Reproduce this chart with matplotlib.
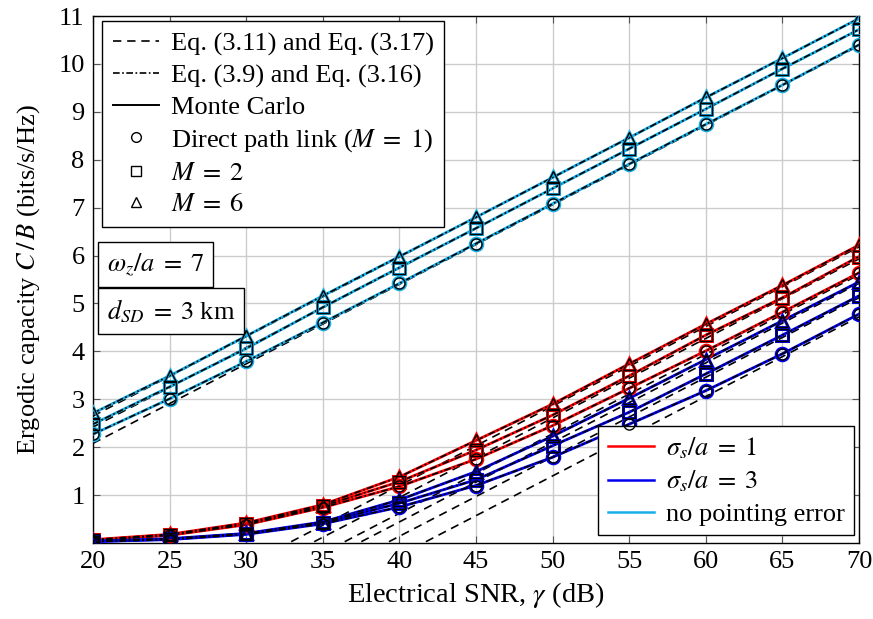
import matplotlib
matplotlib.use("Agg")
import matplotlib.pyplot as plt
from matplotlib.lines import Line2D

plt.rcParams['font.family'] = ['Liberation Serif', 'DejaVu Serif']
plt.rcParams['mathtext.fontset'] = 'stix'

snr = [20, 25, 30, 35, 40, 45, 50, 55, 60, 65, 70]

# no pointing error (cyan)
cyan_M1 = [2.27, 3.01, 3.79, 4.60, 5.42, 6.25, 7.08, 7.91, 8.74, 9.56, 10.40]
cyan_M2 = [2.48, 3.26, 4.06, 4.92, 5.75, 6.57, 7.40, 8.23, 9.06, 9.90, 10.72]
cyan_M6 = [2.71, 3.49, 4.32, 5.16, 5.98, 6.80, 7.63, 8.46, 9.30, 10.12, 10.95]
# sigma_s/a = 1 (red)
red_M1 = [0.05, 0.16, 0.38, 0.74, 1.18, 1.75, 2.45, 3.23, 4.01, 4.82, 5.64]
red_M2 = [0.06, 0.17, 0.40, 0.77, 1.28, 1.94, 2.67, 3.49, 4.34, 5.12, 5.98]
red_M6 = [0.07, 0.18, 0.42, 0.80, 1.38, 2.14, 2.90, 3.74, 4.57, 5.38, 6.22]
# sigma_s/a = 3 (blue)
blue_M1 = [0.03, 0.07, 0.18, 0.40, 0.75, 1.20, 1.79, 2.48, 3.18, 3.95, 4.78]
blue_M2 = [0.03, 0.08, 0.19, 0.42, 0.83, 1.32, 2.03, 2.73, 3.53, 4.34, 5.16]
blue_M6 = [0.04, 0.09, 0.20, 0.44, 0.90, 1.49, 2.23, 3.02, 3.83, 4.64, 5.45]

# high-SNR asymptotes (values at 20 dB and 70 dB)
asym_snr = [20, 70]
asym_cyan = [[2.08, 10.38], [2.42, 10.72], [2.65, 10.95]]
asym_red = [[-2.70, 5.60], [-2.37, 5.93], [-2.12, 6.18]]
asym_blue = [[-3.58, 4.72], [-3.18, 5.12], [-2.88, 5.42]]

yticks = [1, 2, 3, 4, 5, 6, 7, 8, 9, 10, 11]
xticks = [20, 25, 30, 35, 40, 45, 50, 55, 60, 65, 70]

C_RED = '#ff0000'
C_BLUE = '#0000ee'
C_CYAN = '#19aee6'
markers = ['o', 's', '^']
DASHDOT = (0, (4, 1.5, 1, 1.5))
DASHED = (0, (5, 3.5))
FS = 19

fig = plt.figure(figsize=(8.73, 6.19), dpi=100)
ax = fig.add_axes([0.1065, 0.1228, 0.8775, 0.8513])

groups = [
    (C_CYAN, [cyan_M1, cyan_M2, cyan_M6], asym_cyan),
    (C_RED, [red_M1, red_M2, red_M6], asym_red),
    (C_BLUE, [blue_M1, blue_M2, blue_M6], asym_blue),
]

for color, series, asyms in groups:
    for a in asyms:
        ax.plot(asym_snr, a, color='black', lw=1.2, ls=DASHED, zorder=2)
    for vals, m in zip(series, markers):
        ax.plot(snr, vals, color=color, lw=2.0, zorder=3)
        ax.plot(snr, vals, color='black', lw=1.2, ls=DASHDOT, zorder=4)
        ax.plot(snr, vals, ls='none', marker=m, ms=9, mfc='none',
                mec=color, mew=2.2, zorder=5)
        ax.plot(snr, vals, ls='none', marker=m, ms=8, mfc='none',
                mec='black', mew=1.0, zorder=6)

ax.set_xlim(20, 70)
ax.set_ylim(0, 11)
ax.set_xticks(xticks)
ax.set_yticks(yticks)
ax.tick_params(axis='both', which='both', direction='in', top=True, right=True,
               length=5, width=0.8, color='#555555', labelsize=FS, pad=6)
ax.grid(True, color='#cccccc', lw=1.0)
ax.set_axisbelow(True)
for s in ax.spines.values():
    s.set_linewidth(1.0)

ax.set_xlabel(r'Electrical SNR, $\gamma$ (dB)', fontsize=20.5, labelpad=5)
ax.set_ylabel(r'Ergodic capacity $C\,/\,B$ (bits/s/Hz)', fontsize=FS, labelpad=12)

h1 = [
    Line2D([], [], color='black', lw=1.2, ls=DASHED),
    Line2D([], [], color='black', lw=1.2, ls=DASHDOT),
    Line2D([], [], color='black', lw=1.4),
    Line2D([], [], color='black', ls='none', marker='o', ms=7, mfc='none', mew=1.0),
    Line2D([], [], color='black', ls='none', marker='s', ms=7, mfc='none', mew=1.0),
    Line2D([], [], color='black', ls='none', marker='^', ms=7, mfc='none', mew=1.0),
]
l1 = [r'Eq. (3.11) and Eq. (3.17)', r'Eq. (3.9) and Eq. (3.16)', 'Monte Carlo',
      r'Direct path link ($M\;=\;1$)', r'$M\;=\;2$', r'$M\;=\;6$']
leg1 = ax.legend(h1, l1, loc='upper left', bbox_to_anchor=(0.012, 0.99),
                 fontsize=FS, frameon=True, fancybox=False, edgecolor='black',
                 framealpha=1, handlelength=1.75, handletextpad=0.45,
                 labelspacing=0.3, borderpad=0.4, borderaxespad=0)
leg1.get_frame().set_linewidth(1.0)
ax.add_artist(leg1)

h2 = [Line2D([], [], color=C_RED, lw=1.8),
      Line2D([], [], color=C_BLUE, lw=1.8),
      Line2D([], [], color=C_CYAN, lw=1.8)]
l2 = [r'$\sigma_s/a\;=\;1$', r'$\sigma_s/a\;=\;3$', 'no pointing error']
leg2 = ax.legend(h2, l2, loc='lower right', bbox_to_anchor=(0.993, 0.015),
                 fontsize=FS, frameon=True, fancybox=False, edgecolor='black',
                 framealpha=1, handlelength=1.75, handletextpad=0.45,
                 labelspacing=0.3, borderpad=0.35, borderaxespad=0)
leg2.get_frame().set_linewidth(1.0)

bbox = dict(boxstyle='square,pad=0.35', fc='white', ec='black', lw=1.0)
ax.text(0.018, 0.529, r'$\omega_z/a\;=\;7$', transform=ax.transAxes, fontsize=FS,
        va='center', ha='left', bbox=bbox, zorder=10)
ax.text(0.018, 0.440, r'$d_{SD}\;=\;3$ km', transform=ax.transAxes, fontsize=FS,
        va='center', ha='left', bbox=bbox, zorder=10)

fig.savefig('out.png', dpi=100)
